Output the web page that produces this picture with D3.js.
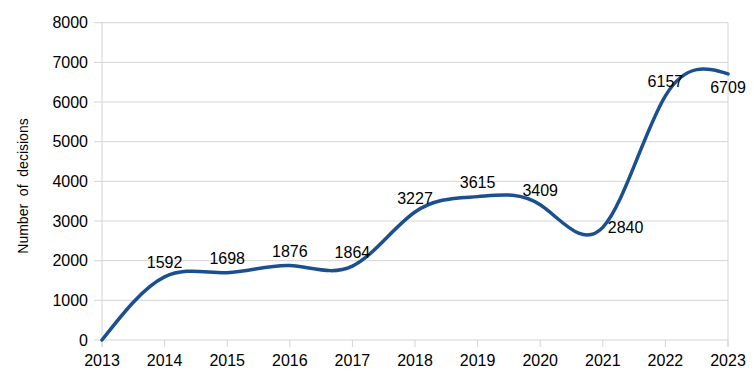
<!DOCTYPE html>
<html><head><meta charset="utf-8">
<script src="https://cdn.jsdelivr.net/npm/d3@7"></script>
<style>body{margin:0;background:#fff}svg{display:block}text{font-family:"Liberation Sans",Arial,sans-serif;fill:#000}</style>
</head><body><svg id="c" width="754" height="379"></svg>
<script>
const years = [2013,2014,2015,2016,2017,2018,2019,2020,2021,2022,2023];
const decisions = [0,1592,1698,1876,1864,3227,3615,3409,2840,6157,6709];
const labelPlacement = ["none","above","above","above","above","above","above","above","right","above","below"];
const yTicks = [0,1000,2000,3000,4000,5000,6000,7000,8000];
const yTitle = "Number  of  decisions";

const svg = d3.select("#c");
const m = {l:102, r:754-728, t:22.7, b:379-340};
const W = 754, H = 379;
const x = d3.scaleLinear().domain([2013,2023]).range([m.l, W-m.r]);
const y = d3.scaleLinear().domain([0,8000]).range([H-m.b, m.t]);
const grid = "#d4d4d4";

// gridlines
svg.append("g").selectAll("line").data(yTicks).join("line")
  .attr("x1", m.l-8).attr("x2", W-m.r).attr("y1", d=>y(d)).attr("y2", d=>y(d))
  .attr("stroke", grid).attr("stroke-width",1);
// verticals
svg.append("line").attr("x1",m.l).attr("x2",m.l).attr("y1",y(8000)).attr("y2",y(0)+7).attr("stroke",grid);
svg.append("line").attr("x1",W-m.r).attr("x2",W-m.r).attr("y1",y(8000)).attr("y2",y(0)+7).attr("stroke",grid);
// x ticks
svg.append("g").selectAll("line").data(years).join("line")
  .attr("x1",d=>x(d)).attr("x2",d=>x(d)).attr("y1",y(0)).attr("y2",y(0)+7).attr("stroke",grid);

// y tick labels
svg.append("g").selectAll("text").data(yTicks).join("text")
  .attr("x", m.l-14).attr("y", d=>y(d)+5.5).attr("text-anchor","end")
  .attr("font-size",16).text(d=>d);
// x tick labels
svg.append("g").selectAll("text").data(years).join("text")
  .attr("x", d=>x(d)).attr("y", y(0)+25.5).attr("text-anchor","middle")
  .attr("font-size",16).text(d=>d);
// y title
svg.append("text").attr("transform",`translate(27.5,${186}) rotate(-90)`)
  .attr("text-anchor","middle").attr("font-size",14).style("white-space","pre").text(yTitle);

// line
const pts = years.map((yr,i)=>[yr,decisions[i]]);
const line = d3.line().x(d=>x(d[0])).y(d=>y(d[1])).curve(d3.curveNatural);
svg.append("path").attr("d", line(pts)).attr("fill","none")
  .attr("stroke","#1b4f8f").attr("stroke-width",3.5).attr("stroke-linejoin","round").attr("stroke-linecap","round");

// data labels
svg.append("g").selectAll("text").data(pts).join("text")
  .filter((d,i)=>labelPlacement[i]!=="none")
  .attr("font-size",16)
  .attr("x",(d)=>{const p=labelPlacement[years.indexOf(d[0])]; return p==="right"? x(d[0])+5 : x(d[0]);})
  .attr("y",(d)=>{const p=labelPlacement[years.indexOf(d[0])];
     if(p==="above") return y(d[1])-8.5; if(p==="below") return y(d[1])+19; return y(d[1])+5.5;})
  .attr("text-anchor",(d)=>labelPlacement[years.indexOf(d[0])]==="right"?"start":"middle")
  .text(d=>d[1]);
</script></body></html>
